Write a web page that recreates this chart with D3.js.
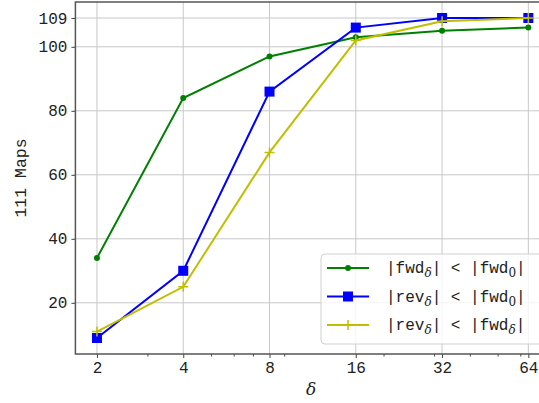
<!DOCTYPE html>
<html>
<head>
<meta charset="utf-8">
<script src="https://cdn.jsdelivr.net/npm/d3@7"></script>
<style>
  html, body { margin: 0; padding: 0; background: #fff; }
  svg { display: block; }
  .tick text { font-family: "Liberation Mono", "DejaVu Sans Mono", monospace; }
</style>
</head>
<body>
<svg id="chart" width="539" height="403"></svg>
<script>
// Window sizes (δ) on a log2 axis
const deltas = [2, 4, 8, 16, 32, 64];
// Number of maps satisfying each size comparison
const fwdVsFwd0 = [34, 84, 97, 103, 105, 106];
const revVsFwd0 = [9, 30, 86, 106, 109, 109];
const revVsFwdD = [11, 25, 67, 102, 108, 109];
const yTicks = [20, 40, 60, 80, 100, 109];
const xMinorTicks = [3, 5, 6, 7, 9, 20, 30, 40, 50, 60];

const series = [
  { values: fwdVsFwd0, color: "#008000", marker: "dot",    label: ["fwd", "δ", "fwd", "0"] },
  { values: revVsFwd0, color: "#0000ff", marker: "square", label: ["rev", "δ", "fwd", "0"] },
  { values: revVsFwdD, color: "#bfbf00", marker: "plus",   label: ["rev", "δ", "fwd", "δ"] }
];

const svg = d3.select("#chart");
const plotLeft = 75.4, plotRight = 549.9, plotTop = 2, plotBottom = 354;

const x = d3.scaleLog().base(2).domain([Math.pow(2, 0.75), Math.pow(2, 6.25)]).range([plotLeft, plotRight]);
const y = d3.scaleLinear().domain([4, 114]).range([plotBottom, plotTop]);

// Grid
const grid = svg.append("g").attr("stroke", "#c8c8c8").attr("stroke-width", 1);
deltas.forEach(d => grid.append("line")
  .attr("x1", x(d)).attr("x2", x(d)).attr("y1", plotTop).attr("y2", plotBottom));
yTicks.forEach(v => grid.append("line")
  .attr("x1", plotLeft).attr("x2", plotRight).attr("y1", y(v)).attr("y2", y(v)));

// Axes
const xAxis = d3.axisBottom(x).tickValues(deltas).tickFormat(d3.format("d")).tickSize(4).tickPadding(4);
const xMinor = d3.axisBottom(x).tickValues(xMinorTicks).tickFormat("").tickSize(2.5);
const yAxis = d3.axisLeft(y).tickValues(yTicks).tickFormat(d3.format("d")).tickSize(4).tickPadding(4);

function styleAxis(g) {
  g.select(".domain").remove();
  g.selectAll(".tick line").attr("stroke", "#444").attr("stroke-width", 1);
  g.selectAll(".tick text").attr("fill", "#222").style("font-size", "16px");
}

svg.append("g").attr("transform", `translate(0,${plotBottom})`).call(xAxis).call(styleAxis);
svg.append("g").attr("transform", `translate(0,${plotBottom})`).call(xMinor).call(styleAxis);
svg.append("g").attr("transform", `translate(${plotLeft},0)`).call(yAxis).call(styleAxis);

// Spines
svg.append("rect").attr("x", plotLeft).attr("y", plotTop)
  .attr("width", plotRight - plotLeft).attr("height", plotBottom - plotTop)
  .attr("fill", "none").attr("stroke", "#555").attr("stroke-width", 1.5);

// Axis labels
svg.append("text").attr("transform", "translate(26,178) rotate(-90)")
  .attr("text-anchor", "middle")
  .style("font-family", "'Liberation Mono', monospace").style("font-size", "16.5px").attr("fill", "#222")
  .text("111 Maps");
svg.append("text").attr("x", 311).attr("y", 395).attr("text-anchor", "middle")
  .style("font-family", "'DejaVu Serif', serif").style("font-style", "italic").style("font-size", "17px")
  .attr("fill", "#222").text("δ");

// Markers
function drawMarker(g, kind, color, cx, cy) {
  if (kind === "dot") {
    g.append("circle").attr("cx", cx).attr("cy", cy).attr("r", 3).attr("fill", color);
  } else if (kind === "square") {
    g.append("rect").attr("x", cx - 5).attr("y", cy - 5).attr("width", 10).attr("height", 10).attr("fill", color);
  } else {
    g.append("path").attr("d", `M${cx - 5},${cy}H${cx + 5}M${cx},${cy - 5}V${cy + 5}`)
      .attr("stroke", color).attr("stroke-width", 1.5);
  }
}

const line = d3.line().x((d, i) => x(deltas[i])).y(d => y(d));
const plot = svg.append("g");
series.forEach(s => {
  plot.append("path").datum(s.values).attr("d", line)
    .attr("fill", "none").attr("stroke", s.color).attr("stroke-width", 2);
  s.values.forEach((v, i) => drawMarker(plot, s.marker, s.color, x(deltas[i]), y(v)));
});

// Legend
const lg = svg.append("g");
lg.append("rect").attr("x", 321).attr("y", 254).attr("width", 222).attr("height", 90)
  .attr("rx", 4).attr("fill", "rgba(255,255,255,0.8)").attr("stroke", "#d0d0d0");
series.forEach((s, i) => {
  const cy = 268 + i * 28.5;
  lg.append("line").attr("x1", 327).attr("x2", 369).attr("y1", cy).attr("y2", cy)
    .attr("stroke", s.color).attr("stroke-width", 2);
  drawMarker(lg, s.marker, s.color, 348, cy);
  const t = lg.append("text").attr("x", 386).attr("y", cy + 5)
    .style("font-family", "'Liberation Mono', monospace").style("font-size", "16px").attr("fill", "#222");
  t.append("tspan").text("|" + s.label[0]);
  t.append("tspan").attr("dy", 4).style("font-family", "'DejaVu Serif', serif")
    .style("font-style", s.label[1] === "δ" ? "italic" : "normal").style("font-size", "12px").text(s.label[1]);
  t.append("tspan").attr("dy", -4).text("| < |" + s.label[2]);
  t.append("tspan").attr("dy", 4).style("font-family", "'DejaVu Serif', serif")
    .style("font-style", s.label[3] === "δ" ? "italic" : "normal").style("font-size", "12px").text(s.label[3]);
  t.append("tspan").attr("dy", -4).text("|");
});
</script>
</body>
</html>
